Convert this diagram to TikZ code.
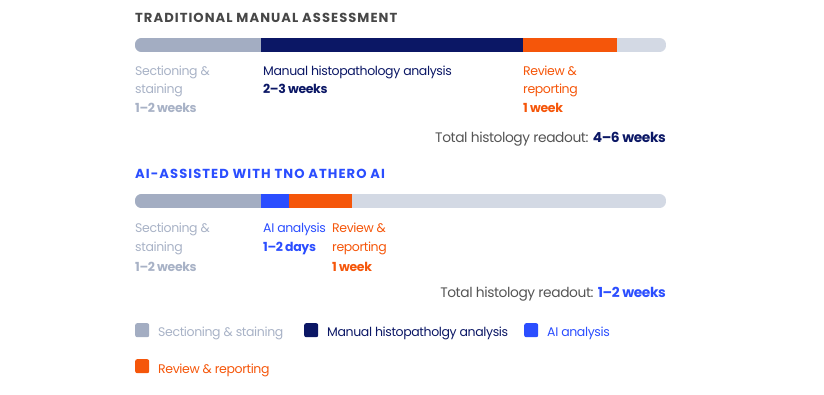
\documentclass[tikz,border=0pt]{standalone}
\usepackage{fontspec}
\setmainfont{Poppins}
\newfontfamily\titlefont[LetterSpace=8]{Poppins}
\newfontfamily\tightfont[LetterSpace=-3]{Poppins}
\definecolor{segGray}{HTML}{A3ADC2}
\definecolor{segNavy}{HTML}{0B1765}
\definecolor{segOrange}{HTML}{F5560A}
\definecolor{segLight}{HTML}{D3D9E4}
\definecolor{segBlue}{HTML}{2B4EFF}
\definecolor{secText}{HTML}{A8B2C6}
\definecolor{titleGray}{HTML}{474747}
\definecolor{totalGray}{HTML}{555555}
\tikzset{
  lbl/.style={anchor=base west, inner sep=0pt, font=\tightfont\fontsize{12.5}{14}\selectfont},
  lblb/.style={lbl, font=\tightfont\bfseries\fontsize{12.5}{14}\selectfont},
  lblr/.style={anchor=base east, inner sep=0pt, font=\tightfont\fontsize{13.8}{15}\selectfont},
  ttl/.style={anchor=base west, inner sep=0pt, font=\titlefont\bfseries\fontsize{13.1}{15}\selectfont},
  sq/.style={rounded corners=2pt, minimum size=14pt, inner sep=0pt, anchor=north west},
}
\begin{document}
\begin{tikzpicture}[x=1pt,y=-1pt]
\useasboundingbox (0,0) rectangle (824,394);
% ---- traditional
\node[ttl, text=titleGray] (t1) at (135,22) {TRADITIONAL MANUAL ASSESSMENT};
\begin{scope}
\clip[rounded corners=6.5pt] (135,38) rectangle (666,52);
\fill[segLight] (135,38) rectangle (666,52);
\fill[segGray] (135,38) rectangle (261,52);
\fill[segNavy] (261,38) rectangle (523,52);
\fill[segOrange] (523,38) rectangle (617,52);
\end{scope}
\node[lbl, text=secText] (a1) at (135,75) {Sectioning \&};
\node[lbl, text=secText] (a2) at (135,93) {staining};
\node[lblb, text=secText] (a3) at (135,112) {1–2 weeks};
\node[lbl, text=segNavy] (b1) at (263,75) {Manual histopathology analysis};
\node[lblb, text=segNavy] (b2) at (263,93) {2–3 weeks};
\node[lbl, text=segOrange] (c1) at (523,75) {Review \&};
\node[lbl, text=segOrange] (c2) at (523,93) {reporting};
\node[lblb, text=segOrange] (c3) at (523,112) {1 week};
\node[lblr, text=totalGray] (tot1) at (666,142) {Total histology readout: \textcolor{segNavy}{\bfseries 4–6 weeks}};
% ---- AI
\node[ttl, text=segBlue] (t2) at (135,178) {AI-ASSISTED WITH TNO ATHERO AI};
\begin{scope}
\clip[rounded corners=6.5pt] (135,194) rectangle (666,208);
\fill[segLight] (135,194) rectangle (666,208);
\fill[segGray] (135,194) rectangle (261,208);
\fill[segBlue] (261,194) rectangle (289,208);
\fill[segOrange] (289,194) rectangle (352,208);
\end{scope}
\node[lbl, text=secText] (d1) at (135,232) {Sectioning \&};
\node[lbl, text=secText] (d2) at (135,251) {staining};
\node[lblb, text=secText] (d3) at (135,271) {1–2 weeks};
\node[lbl, text=segBlue] (e1) at (263,232) {AI analysis};
\node[lblb, text=segBlue] (e2) at (263,251) {1–2 days};
\node[lbl, text=segOrange] (f1) at (332,232) {Review \&};
\node[lbl, text=segOrange] (f2) at (332,251) {reporting};
\node[lblb, text=segOrange] (f3) at (332,271) {1 week};
\node[lblr, text=totalGray] (tot2) at (666,297) {Total histology readout: \textcolor{segBlue}{\bfseries 1–2 weeks}};
% ---- legend
\node[sq, fill=segGray] (l1) at (135,323) {};
\node[lbl, text=secText] (l1t) at (158,336) {Sectioning \& staining};
\node[sq, fill=segNavy] (l2) at (304,323) {};
\node[lbl, text=segNavy] (l2t) at (327,336) {Manual histopatholgy analysis};
\node[sq, fill=segBlue] (l3) at (524,323) {};
\node[lbl, text=segBlue] (l3t) at (547,336) {AI analysis};
\node[sq, fill=segOrange] (l4) at (135,359) {};
\node[lbl, text=segOrange] (l4t) at (158,373) {Review \& reporting};
\end{tikzpicture}
\end{document}
